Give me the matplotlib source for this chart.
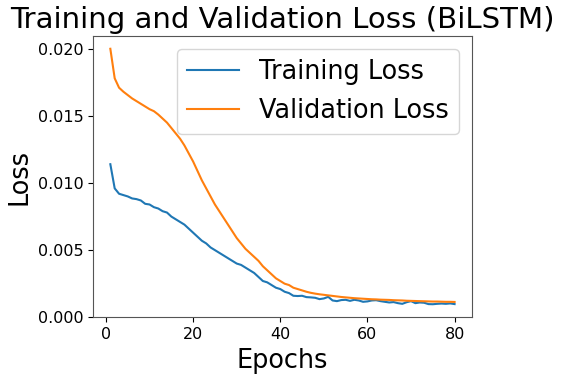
import matplotlib
matplotlib.use("Agg")
import matplotlib.pyplot as plt
import numpy as np

epochs = list(range(1, 81))
train_loss = [
    0.0114, 0.0096, 0.0092, 0.0091, 0.0090, 0.00885, 0.0088, 0.0087, 0.00845, 0.0084,
    0.0082, 0.0081, 0.0079, 0.0078, 0.0075, 0.0073, 0.0071, 0.0069, 0.0066, 0.0063,
    0.0060, 0.0057, 0.0055, 0.0052, 0.0050, 0.0048, 0.0046, 0.0044, 0.0042, 0.0040,
    0.0039, 0.0037, 0.0035, 0.0033, 0.0030, 0.0027, 0.0026, 0.0024, 0.0022, 0.0021,
    0.0019, 0.0018, 0.0016, 0.00158, 0.00160, 0.00150, 0.00148, 0.00145, 0.00135, 0.00140,
    0.00152, 0.00125, 0.00120, 0.00128, 0.00130, 0.00122, 0.00130, 0.00125, 0.00115, 0.00118,
    0.00125, 0.00127, 0.00120, 0.00115, 0.00110, 0.00113, 0.00105, 0.00100, 0.00112, 0.00120,
    0.00105, 0.00110, 0.00108, 0.00098, 0.00097, 0.00100, 0.00102, 0.00100, 0.00103, 0.00098,
]
val_loss = [
    0.0200, 0.0178, 0.0171, 0.0168, 0.01655, 0.0163, 0.0161, 0.0159, 0.0157, 0.0155,
    0.01535, 0.0151, 0.0148, 0.0145, 0.0141, 0.0137, 0.0133, 0.0128, 0.0122, 0.0116,
    0.0109, 0.0102, 0.0096, 0.0090, 0.0084, 0.0079, 0.0074, 0.0069, 0.0064, 0.0059,
    0.0055, 0.0051, 0.0048, 0.0045, 0.0042, 0.0038, 0.0035, 0.0032, 0.0029, 0.0027,
    0.0025, 0.0024, 0.0022, 0.0021, 0.00200, 0.00190, 0.00182, 0.00176, 0.00171, 0.00167,
    0.00163, 0.00159, 0.00155, 0.00151, 0.00148, 0.00145, 0.00142, 0.00140, 0.00138, 0.00136,
    0.00134, 0.00133, 0.00131, 0.00130, 0.00129, 0.00127, 0.00126, 0.00125, 0.00123, 0.00122,
    0.00121, 0.00120, 0.00119, 0.00118, 0.00117, 0.00117, 0.00116, 0.00115, 0.00115, 0.00114,
]

fig = plt.figure(figsize=(5.61, 3.75), dpi=100)
ax = fig.add_axes([0.166, 0.154, 0.675, 0.750])
ax.plot(epochs, train_loss, color="#1f77b4", lw=1.5, label="Training Loss")
ax.plot(epochs, val_loss, color="#ff7f0e", lw=1.5, label="Validation Loss")
ax.set_title("Training and Validation Loss (BiLSTM)", fontsize=21.1)
ax.set_xlabel("Epochs", fontsize=18.4)
ax.set_ylabel("Loss", fontsize=18.4)
ax.set_xticks([0, 20, 40, 60, 80])
ax.set_yticks([0.0, 0.005, 0.010, 0.015, 0.020])
ax.set_yticklabels(["0.000", "0.005", "0.010", "0.015", "0.020"])
ax.tick_params(labelsize=11.5)
for s in ax.spines.values():
    s.set_color("#555555")
ax.legend(fontsize=18.4, loc="upper right")
fig.savefig("out.png", dpi=100)
